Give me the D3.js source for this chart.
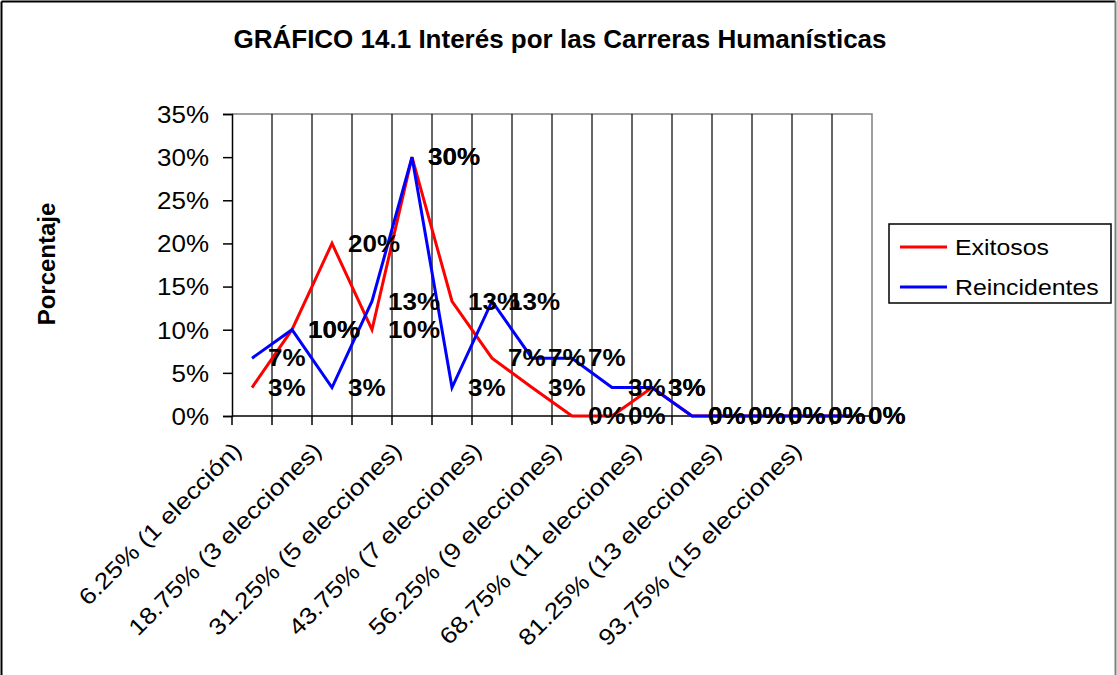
<!DOCTYPE html>
<html lang="es">
<head>
<meta charset="UTF-8">
<title>GRÁFICO 14.1</title>
<style>
  body { margin: 0; background: #fff; }
  text { font-family: "Liberation Sans", Arial, sans-serif; fill: #000; }
</style>
</head>
<body>
<div id="chart"></div>
<script src="https://d3js.org/d3.v7.min.js"></script>
<script>
// categorías del eje X
const categorias = [
  "6.25% (1 elección)", "12.5% (2 elecciones)", "18.75% (3 elecciones)", "25% (4 elecciones)",
  "31.25% (5 elecciones)", "37.5% (6 elecciones)", "43.75% (7 elecciones)", "50% (8 elecciones)",
  "56.25% (9 elecciones)", "62.5% (10 elecciones)", "68.75% (11 elecciones)", "75% (12 elecciones)",
  "81.25% (13 elecciones)", "87.5% (14 elecciones)", "93.75% (15 elecciones)", "100% (16 elecciones)"
];
// porcentajes por serie
const exitosos     = [3.3, 10, 20, 10, 30, 13.3, 6.7, 3.3, 0, 0, 3.3, 0, 0, 0, 0, 0];
const reincidentes = [6.7, 10, 3.3, 13.3, 30, 3.3, 13.3, 6.7, 6.7, 3.3, 3.3, 0, 0, 0, 0, 0];
const yTicks = [0, 5, 10, 15, 20, 25, 30, 35];

const W = 1117, H = 675;
const SX = 1.13; // texto algo ensanchado, como en la imagen
const plot = { left: 232, right: 872, top: 114, bottom: 416 };

const series = [
  { name: "Exitosos", values: exitosos, color: "#FF0000" },
  { name: "Reincidentes", values: reincidentes, color: "#0000FF" }
];

const svg = d3.select("#chart").append("svg")
  .attr("width", W).attr("height", H);

// marco exterior
svg.append("line").attr("x1", 1.5).attr("x2", 1.5).attr("y1", 1.5).attr("y2", H).attr("stroke", "#000").attr("stroke-width", 2);
svg.append("line").attr("x1", 1.5).attr("x2", W - 1.5).attr("y1", 1.5).attr("y2", 1.5).attr("stroke", "#000").attr("stroke-width", 2);
svg.append("line").attr("x1", W - 1.5).attr("x2", W - 1.5).attr("y1", 1.5).attr("y2", H).attr("stroke", "#808080").attr("stroke-width", 2);

const x = d3.scaleBand().domain(categorias).range([plot.left, plot.right]).padding(0);
const y = d3.scaleLinear().domain([0, 35]).range([plot.bottom, plot.top]);
const cx = d => x(d) + x.bandwidth() / 2;

// título
svg.append("text")
  .attr("transform", `translate(560,48) scale(1.04,1)`)
  .attr("text-anchor", "middle")
  .style("font-size", "25px").style("font-weight", "bold")
  .text("GRÁFICO 14.1 Interés por las Carreras Humanísticas");

// borde gris del área de trazado (arriba y derecha)
svg.append("path")
  .attr("d", `M${plot.left},${plot.top}H${plot.right}V${plot.bottom}`)
  .attr("fill", "none").attr("stroke", "#808080").attr("stroke-width", 1.5);

// líneas verticales entre categorías
svg.append("g").selectAll("line")
  .data(categorias.slice(1))
  .join("line")
  .attr("x1", d => x(d)).attr("x2", d => x(d))
  .attr("y1", plot.top).attr("y2", plot.bottom)
  .attr("stroke", "#000").attr("stroke-width", 1.2);

// eje Y
const yAxis = svg.append("g")
  .attr("transform", `translate(${plot.left},0)`)
  .call(d3.axisLeft(y).tickValues(yTicks).tickSize(9).tickPadding(0).tickFormat(d => d + "%"));
yAxis.select(".domain").attr("stroke", "#000").attr("stroke-width", 1.5);
yAxis.selectAll(".tick line").attr("stroke", "#000").attr("stroke-width", 1.5);
yAxis.selectAll(".tick text")
  .attr("x", null).attr("dy", null)
  .attr("transform", "translate(-23,0) scale(" + SX + ",1)")
  .attr("dy", "0.36em")
  .style("font-size", "23px").style("font-family", "'Liberation Sans', Arial, sans-serif").attr("fill", "#000");

// eje X: línea y marcas en los límites de categoría
svg.append("line")
  .attr("x1", plot.left).attr("x2", plot.right)
  .attr("y1", plot.bottom).attr("y2", plot.bottom)
  .attr("stroke", "#000").attr("stroke-width", 1.5);
svg.append("g").selectAll("line")
  .data(categorias)
  .join("line")
  .attr("x1", d => x(d)).attr("x2", d => x(d))
  .attr("y1", plot.bottom).attr("y2", plot.bottom + 9)
  .attr("stroke", "#000").attr("stroke-width", 1.5);

// etiquetas de categoría (una sí, una no), giradas 45°
svg.append("g").selectAll("text")
  .data(categorias.filter((d, i) => i % 2 === 0))
  .join("text")
  .attr("transform", d => `translate(${cx(d) - 9},${plot.bottom + 36}) rotate(-45) scale(1.15,1)`)
  .attr("text-anchor", "end")
  .style("font-size", "23px")
  .text(d => d);

// título del eje Y
svg.append("text")
  .attr("transform", "translate(55,264) rotate(-90)")
  .attr("text-anchor", "middle")
  .style("font-size", "24px").style("font-weight", "bold")
  .text("Porcentaje");

// líneas de las series
const line = d3.line()
  .x((v, i) => cx(categorias[i]))
  .y(v => y(v));

svg.append("g").selectAll("path")
  .data(series)
  .join("path")
  .attr("d", s => line(s.values))
  .attr("fill", "none")
  .attr("stroke", s => s.color)
  .attr("stroke-width", 3)
  .attr("stroke-linejoin", "miter");

// rótulos de datos a la derecha de cada punto
const fmt = d3.format(".0f");
series.forEach(s => {
  svg.append("g").selectAll("text")
    .data(s.values)
    .join("text")
    .attr("transform", (v, i) => `translate(${cx(categorias[i]) + 16},${y(v)}) scale(${SX},1)`)
    .attr("dy", "0.36em")
    .style("font-size", "23px").style("font-weight", "bold")
    .text(v => fmt(v) + "%");
});

// leyenda
const legend = svg.append("g").attr("transform", "translate(889,224)");
legend.append("rect")
  .attr("width", 222).attr("height", 79)
  .attr("fill", "#fff").attr("stroke", "#000").attr("stroke-width", 1.5);
const item = legend.selectAll("g")
  .data(series)
  .join("g")
  .attr("transform", (s, i) => `translate(0,${23 + i * 40})`);
item.append("line")
  .attr("x1", 11).attr("x2", 58)
  .attr("stroke", s => s.color).attr("stroke-width", 3);
item.append("text")
  .attr("transform", `translate(66,0) scale(${SX},1)`)
  .attr("dy", "0.36em")
  .style("font-size", "22px")
  .text(s => s.name);
</script>
</body>
</html>
